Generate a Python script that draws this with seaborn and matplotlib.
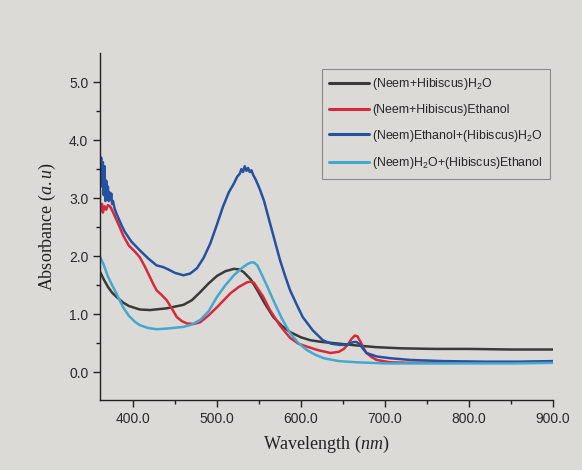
import pandas as pd
import numpy as np
import matplotlib
matplotlib.use('Agg')
import matplotlib.pyplot as plt
import seaborn as sns

# values
wl_h2o = [361, 365, 370, 375, 380, 388, 395, 408, 420, 440, 460, 470, 480, 490, 500, 510, 520, 527,
          532, 540, 548, 557, 567, 577, 587, 600, 611, 625, 646, 666, 690, 720, 760, 800, 850, 900]
abs_h2o = [1.72, 1.60, 1.47, 1.37, 1.30, 1.20, 1.14, 1.08, 1.07, 1.10, 1.16, 1.24, 1.38, 1.53, 1.66, 1.74, 1.78, 1.77,
           1.72, 1.60, 1.41, 1.18, 0.95, 0.80, 0.69, 0.60, 0.55, 0.52, 0.49, 0.46, 0.43, 0.41, 0.40, 0.40, 0.39, 0.39]

wl_eth = [361, 363, 364, 366, 368, 370, 373, 376, 380, 384, 388, 395, 402, 408, 414, 420, 424, 428, 434, 440,
          446, 452, 458, 464, 472, 480, 490, 500, 508, 516, 526, 536, 540, 544, 548, 555, 563, 575, 587, 597,
          607, 620, 635, 645, 651, 656, 660, 664, 667, 671, 675, 678, 684, 690, 706, 730, 770, 820, 860, 900]
abs_eth = [2.78, 2.90, 2.75, 2.86, 2.80, 2.88, 2.85, 2.76, 2.63, 2.50, 2.36, 2.18, 2.08, 1.98, 1.82, 1.64, 1.52, 1.41, 1.33, 1.24,
           1.10, 0.95, 0.88, 0.84, 0.83, 0.86, 0.98, 1.12, 1.24, 1.36, 1.47, 1.55, 1.56, 1.54, 1.45, 1.30, 1.07, 0.80, 0.59, 0.49,
           0.44, 0.38, 0.33, 0.35, 0.40, 0.48, 0.57, 0.63, 0.62, 0.52, 0.40, 0.33, 0.26, 0.21, 0.17, 0.16, 0.16, 0.17, 0.17, 0.18]

wl_mix1 = [361, 362, 363, 364, 365, 366, 367, 368, 369, 370, 371, 372, 373, 374, 375, 376, 378, 380, 383, 386,
           390, 398, 408, 418, 428, 436, 442, 450, 460, 468, 476, 484, 492, 500, 507, 514, 520, 524, 527, 529,
           531, 533, 535, 537, 539, 541, 543, 546, 549, 551, 556, 563, 569, 575, 581, 587, 595, 602, 614, 626,
           636, 646, 654, 659, 663, 666, 670, 674, 678, 690, 706, 730, 770, 820, 860, 900]
abs_mix1 = [3.55, 3.70, 3.20, 3.62, 3.05, 3.55, 2.95, 3.30, 3.00, 3.20, 2.95, 3.10, 2.98, 3.08, 2.90, 2.95, 2.82, 2.74, 2.64, 2.54,
            2.42, 2.25, 2.10, 1.96, 1.84, 1.81, 1.77, 1.71, 1.67, 1.70, 1.79, 1.97, 2.22, 2.55, 2.85, 3.10, 3.25, 3.37, 3.42, 3.50,
            3.45, 3.55, 3.47, 3.52, 3.45, 3.48, 3.40, 3.32, 3.22, 3.15, 2.95, 2.57, 2.25, 1.93, 1.66, 1.41, 1.16, 0.95, 0.72, 0.55,
            0.49, 0.47, 0.47, 0.50, 0.52, 0.52, 0.48, 0.40, 0.33, 0.27, 0.24, 0.21, 0.19, 0.18, 0.18, 0.19]

wl_mix2 = [361, 365, 370, 375, 380, 388, 395, 402, 408, 418, 428, 440, 460, 470, 480, 490, 500, 510, 520, 530,
           536, 540, 544, 548, 552, 560, 567, 577, 587, 597, 607, 617, 627, 645, 666, 700, 750, 800, 850, 900]
abs_mix2 = [1.98, 1.85, 1.65, 1.50, 1.36, 1.12, 0.97, 0.87, 0.81, 0.76, 0.74, 0.75, 0.78, 0.82, 0.90, 1.05, 1.30, 1.50, 1.67, 1.80,
            1.86, 1.89, 1.89, 1.84, 1.72, 1.47, 1.24, 0.93, 0.67, 0.50, 0.38, 0.30, 0.24, 0.19, 0.17, 0.15, 0.15, 0.15, 0.15, 0.16]

labels = [r'(Neem+Hibiscus)H$\mathregular{_2}$O',
          '(Neem+Hibiscus)Ethanol',
          r'(Neem)Ethanol+(Hibiscus)H$\mathregular{_2}$O',
          r'(Neem)H$\mathregular{_2}$O+(Hibiscus)Ethanol']
colors = ['#3b3a38', '#d42a3c', '#2452a0', '#45a8d0']

frames = []
for lab, w, a in zip(labels, [wl_h2o, wl_eth, wl_mix1, wl_mix2], [abs_h2o, abs_eth, abs_mix1, abs_mix2]):
    frames.append(pd.DataFrame({'Wavelength': w, 'Absorbance': a, 'Sample': lab}))
df = pd.concat(frames, ignore_index=True)

sns.set_theme(style='ticks')
plt.rcParams['font.family'] = ['Liberation Sans', 'DejaVu Sans']
plt.rcParams['mathtext.fontset'] = 'custom'
plt.rcParams['mathtext.rm'] = 'Liberation Serif'
plt.rcParams['mathtext.it'] = 'Liberation Serif:italic'

bg = '#dcdad6'
fig = plt.figure(figsize=(5.82, 4.70), dpi=100, facecolor=bg)
ax = fig.add_axes([0.172, 0.149, 0.778, 0.738])
ax.set_facecolor(bg)

sns.lineplot(data=df, x='Wavelength', y='Absorbance', hue='Sample', palette=colors,
             hue_order=labels, estimator=None, sort=False, linewidth=1.8, ax=ax)

ax.set_xlim(360.7, 900)
ax.set_ylim(-0.48, 5.5)
ax.set_xticks([400, 500, 600, 700, 800, 900])
ax.set_xticks([450, 550, 650, 750, 850], minor=True)
ax.set_yticks([0, 1, 2, 3, 4, 5])
ax.set_yticks([0.5, 1.5, 2.5, 3.5, 4.5], minor=True)
ax.set_xticklabels([f'{v:.1f}' for v in [400, 500, 600, 700, 800, 900]])
ax.set_yticklabels([f'{v:.1f}' for v in [0, 1, 2, 3, 4, 5]])
ax.tick_params(which='major', direction='out', length=5, width=1, colors='#222222',
               labelsize=10, labelcolor='#2a2a2a')
ax.tick_params(which='minor', direction='out', length=3, width=1, colors='#222222')

for s in ['top', 'right']:
    ax.spines[s].set_visible(False)
for s in ['left', 'bottom']:
    ax.spines[s].set_color('#222222')
    ax.spines[s].set_linewidth(1)

serif = ['Liberation Serif', 'DejaVu Serif']
ax.set_xlabel('Wavelength ($nm$)', fontsize=13, family=serif, color='#222222', labelpad=6)
ax.set_ylabel('Absorbance ($a.u$)', fontsize=13, family=serif, color='#222222', labelpad=8)

leg = ax.legend(loc='upper right', bbox_to_anchor=(1.0, 0.962), fontsize=8.9, frameon=True,
                fancybox=False, edgecolor='#8a8a8a', facecolor=bg, framealpha=1,
                handlelength=3.2, labelspacing=0.95, borderpad=0.6, handletextpad=0.3,
                borderaxespad=0.2)
leg.get_frame().set_linewidth(0.8)
for line in leg.get_lines():
    line.set_linewidth(2.2)
for t in leg.get_texts():
    t.set_color('#262626')

fig.savefig('out.png', dpi=100, facecolor=bg)
